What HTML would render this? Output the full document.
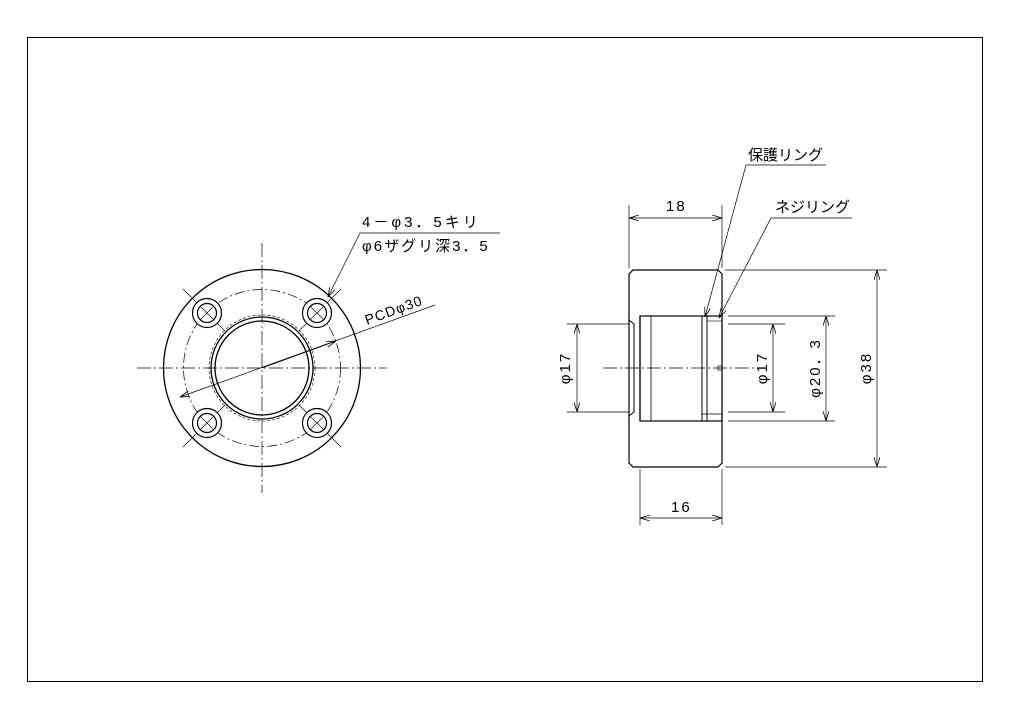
<!DOCTYPE html>
<html><head><meta charset="utf-8"><style>
html,body{margin:0;padding:0;background:#fff;}
svg{display:block;}
text{font-family:"Liberation Sans","Noto Sans CJK JP",sans-serif;fill:#000;}
</style></head><body>
<svg width="1024" height="724" viewBox="0 0 1024 724" xmlns="http://www.w3.org/2000/svg">
<defs>
<marker id="a" viewBox="0 0 10 6" refX="10" refY="3" markerWidth="10" markerHeight="6" orient="auto-start-reverse" markerUnits="userSpaceOnUse">
<path d="M0,0 L10,3 L0,6" fill="none" stroke="#000" stroke-width="0.8"/>
</marker>
</defs>
<rect x="27.5" y="37.5" width="955" height="644" fill="none" stroke="#000" stroke-width="1"/>

<!-- LEFT VIEW -->
<g fill="none" stroke="#000">
<line x1="137" y1="368" x2="387" y2="368" stroke-width="0.7" stroke-dasharray="14,3,2,3"/>
<line x1="262" y1="243" x2="262" y2="493" stroke-width="0.7" stroke-dasharray="14,3,2,3"/>
<circle cx="262" cy="368" r="98.5" stroke-width="1.3"/>
<circle cx="262" cy="368" r="78.5" stroke-width="0.7" stroke-dasharray="10,3,2,3"/>
<circle cx="262" cy="368" r="53" stroke-width="0.6" stroke-dasharray="3,2"/>
<circle cx="262" cy="368" r="51" stroke-width="1.3"/>
<circle cx="262" cy="368" r="47" stroke-width="1.3"/>
<g stroke-width="0.6">
<line x1="299" y1="331" x2="341" y2="289"/>
<line x1="225" y1="331" x2="183" y2="289"/>
<line x1="299" y1="405" x2="341" y2="447"/>
<line x1="225" y1="405" x2="183" y2="447"/>
</g>
<g stroke-width="1.2">
<circle cx="207" cy="313" r="14.5" fill="#fff"/><circle cx="207" cy="313" r="9.5"/>
<circle cx="317" cy="313" r="14.5" fill="#fff"/><circle cx="317" cy="313" r="9.5"/>
<circle cx="207" cy="423" r="14.5" fill="#fff"/><circle cx="207" cy="423" r="9.5"/>
<circle cx="317" cy="423" r="14.5" fill="#fff"/><circle cx="317" cy="423" r="9.5"/>
</g>
<g stroke-width="0.6">
<line x1="200" y1="306" x2="214" y2="320"/><line x1="214" y1="306" x2="200" y2="320"/>
<line x1="310" y1="306" x2="324" y2="320"/><line x1="324" y1="306" x2="310" y2="320"/>
<line x1="200" y1="416" x2="214" y2="430"/><line x1="214" y1="416" x2="200" y2="430"/>
<line x1="310" y1="416" x2="324" y2="430"/><line x1="324" y1="416" x2="310" y2="430"/>
</g>
<polyline points="500,233 360,233 328,297" stroke-width="0.7" marker-end="url(#a)"/>
<line x1="180" y1="397" x2="435" y2="305" stroke-width="0.7" marker-start="url(#a)"/>
<line x1="262" y1="368" x2="336" y2="341" stroke-width="0.7" marker-end="url(#a)"/>
</g>
<text x="362" y="227" font-size="15" letter-spacing="3">4－φ3．5キリ</text>
<text x="362" y="251" font-size="15" letter-spacing="2">φ6ザグリ深3．5</text>
<text x="0" y="0" font-size="14" letter-spacing="1" transform="translate(367,325) rotate(-20)">PCDφ30</text>

<!-- RIGHT VIEW -->
<g fill="none" stroke="#000">
<path d="M633,270 H718 L722,274 V463 L718,467 H633 L629,463 V274 Z" stroke-width="1.2"/>
<rect x="640" y="316" width="82" height="105" fill="#fff" stroke-width="1.2"/>
<path d="M629,320 L634,324 V412 L629,416" stroke-width="1"/>
<line x1="640" y1="316" x2="640" y2="421" stroke-width="1.2"/>
<line x1="651" y1="316" x2="651" y2="421" stroke-width="0.8"/>
<line x1="702" y1="316" x2="702" y2="421" stroke-width="1"/>
<line x1="707" y1="316" x2="707" y2="421" stroke-width="1"/>
<line x1="702" y1="414" x2="722" y2="414" stroke-width="0.8"/>
<line x1="707" y1="321" x2="722" y2="321" stroke-width="0.6"/>
<rect x="718" y="366" width="4" height="4" stroke-width="0.7"/>
<line x1="603" y1="368" x2="757" y2="368" stroke-width="0.7" stroke-dasharray="14,3,2,3"/>
<g stroke-width="0.7">
<line x1="629" y1="205" x2="629" y2="268"/><line x1="722" y1="205" x2="722" y2="268"/>
<line x1="629" y1="218" x2="722" y2="218" marker-start="url(#a)" marker-end="url(#a)"/>
<line x1="640" y1="469" x2="640" y2="525"/><line x1="722" y1="469" x2="722" y2="525"/>
<line x1="640" y1="518" x2="722" y2="518" marker-start="url(#a)" marker-end="url(#a)"/>
<line x1="725" y1="270" x2="887" y2="270"/><line x1="725" y1="467" x2="887" y2="467"/>
<line x1="877" y1="270" x2="877" y2="467" marker-start="url(#a)" marker-end="url(#a)"/>
<line x1="728" y1="316" x2="835" y2="316"/><line x1="728" y1="421" x2="835" y2="421"/>
<line x1="826" y1="316" x2="826" y2="421" marker-start="url(#a)" marker-end="url(#a)"/>
<line x1="728" y1="324" x2="785" y2="324"/><line x1="728" y1="412" x2="785" y2="412"/>
<line x1="773" y1="324" x2="773" y2="412" marker-start="url(#a)" marker-end="url(#a)"/>
<line x1="567" y1="324" x2="629" y2="324"/><line x1="567" y1="412" x2="629" y2="412"/>
<line x1="577" y1="324" x2="577" y2="412" marker-start="url(#a)" marker-end="url(#a)"/>
<polyline points="826,165 746,165 705,317" marker-end="url(#a)"/>
<polyline points="852,218 771,218 719,318" marker-end="url(#a)"/>
</g>
</g>
<text x="666" y="211" font-size="15" letter-spacing="2">18</text>
<text x="671" y="512" font-size="15" letter-spacing="2">16</text>
<text x="748" y="160" font-size="15">保護リング</text>
<text x="775" y="212" font-size="15">ネジリング</text>
<text font-size="15" letter-spacing="2" text-anchor="middle" transform="translate(871,368) rotate(-90)">φ38</text>
<text font-size="15" letter-spacing="2" text-anchor="middle" transform="translate(820,368) rotate(-90)">φ20．3</text>
<text font-size="15" letter-spacing="2" text-anchor="middle" transform="translate(767,368) rotate(-90)">φ17</text>
<text font-size="15" letter-spacing="2" text-anchor="middle" transform="translate(570,368) rotate(-90)">φ17</text>
</svg>
</body></html>
